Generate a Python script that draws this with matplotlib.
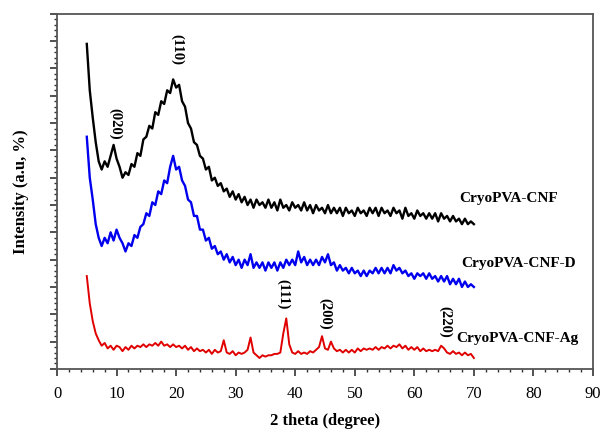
import matplotlib
matplotlib.use("Agg")
import matplotlib.pyplot as plt
import numpy as np
from matplotlib.ticker import MultipleLocator, AutoMinorLocator, NullFormatter

plt.rcParams['font.family'] = ['Liberation Serif', 'DejaVu Serif']
plt.rcParams['font.weight'] = 'bold'

# 2 theta grid (degree), 0.5 step from 5 to 70
twoTheta = np.arange(5.0, 70.01, 0.5)

cryoCNF = [11.9, 10.2, 9.2, 8.3, 7.6, 7.3, 7.6, 7.4, 7.8, 8.2,
           7.7, 7.4, 7.0, 7.2, 7.1, 7.5, 7.4, 7.9, 7.8, 8.4,
           8.5, 8.9, 8.8, 9.4, 9.3, 9.8, 9.7, 10.2, 10.1, 10.6,
           10.3, 10.4, 9.8, 9.6, 9.0, 8.8, 8.3, 8.2, 7.8, 7.7,
           7.3, 7.4, 6.9, 7.0, 6.7, 6.8, 6.5, 6.6, 6.3, 6.5,
           6.2, 6.4, 6.1, 6.3, 6.0, 6.2, 5.9, 6.2, 6.0, 6.1,
           5.9, 6.2, 5.9, 6.1, 5.8, 6.2, 5.9, 6.0, 5.8, 6.1,
           5.9, 6.0, 5.8, 6.1, 5.8, 6.0, 5.7, 6.0, 5.8, 5.9,
           5.7, 6.0, 5.7, 5.9, 5.7, 5.9, 5.6, 5.9, 5.7, 5.8,
           5.6, 5.9, 5.7, 5.8, 5.6, 5.9, 5.7, 5.9, 5.6, 5.9,
           5.7, 5.8, 5.6, 5.9, 5.7, 5.8, 5.5, 5.9, 5.6, 5.7,
           5.5, 5.8, 5.6, 5.7, 5.5, 5.7, 5.5, 5.7, 5.4, 5.7,
           5.5, 5.6, 5.4, 5.6, 5.4, 5.5, 5.3, 5.5, 5.3, 5.4,
           5.3]

cryoCNF_D = [8.5, 7.0, 6.2, 5.3, 4.8, 4.5, 4.8, 4.6, 5.0, 4.7,
             5.1, 4.8, 4.6, 4.3, 4.6, 4.5, 4.9, 4.8, 5.2, 5.3,
             5.7, 5.6, 6.1, 6.0, 6.5, 6.4, 6.9, 6.8, 7.4, 7.8,
             7.3, 7.4, 6.9, 6.7, 6.2, 6.1, 5.6, 5.6, 5.1, 5.1,
             4.7, 4.8, 4.4, 4.5, 4.2, 4.3, 4.0, 4.2, 3.9, 4.1,
             3.8, 4.0, 3.7, 4.0, 3.8, 4.2, 3.7, 3.9, 3.7, 3.9,
             3.6, 3.9, 3.7, 3.9, 3.6, 3.9, 3.7, 4.0, 3.8, 4.0,
             3.8, 4.3, 3.9, 4.1, 3.8, 4.0, 3.8, 4.0, 3.8, 4.1,
             3.9, 4.2, 3.8, 3.9, 3.6, 3.8, 3.6, 3.7, 3.5, 3.7,
             3.5, 3.6, 3.4, 3.6, 3.4, 3.6, 3.5, 3.7, 3.5, 3.7,
             3.5, 3.7, 3.5, 3.8, 3.6, 3.7, 3.5, 3.6, 3.4, 3.5,
             3.3, 3.5, 3.4, 3.5, 3.3, 3.5, 3.3, 3.4, 3.2, 3.4,
             3.2, 3.4, 3.1, 3.3, 3.1, 3.3, 3.0, 3.2, 3.0, 3.1,
             3.0]

cryoCNF_Ag = [3.4, 2.4, 1.75, 1.3, 1.05, 0.85, 0.95, 0.75, 0.85, 0.7,
              0.85, 0.8, 0.65, 0.8, 0.7, 0.85, 0.75, 0.85, 0.8, 0.9,
              0.8, 0.9, 0.85, 0.95, 0.85, 1.0, 0.85, 0.9, 0.8, 0.9,
              0.8, 0.85, 0.75, 0.85, 0.7, 0.8, 0.65, 0.75, 0.65, 0.7,
              0.6, 0.7, 0.55, 0.7, 0.6, 0.65, 1.05, 0.6, 0.55, 0.65,
              0.5, 0.6, 0.55, 0.6, 0.7, 1.15, 0.6, 0.5, 0.4, 0.5,
              0.45, 0.5, 0.5, 0.55, 0.55, 0.6, 1.3, 1.85, 0.9, 0.6,
              0.55, 0.65, 0.55, 0.6, 0.55, 0.65, 0.6, 0.7, 0.8, 1.2,
              0.75, 0.7, 1.0, 0.75, 0.65, 0.7, 0.6, 0.7, 0.6, 0.7,
              0.6, 0.75, 0.65, 0.75, 0.7, 0.75, 0.7, 0.8, 0.7, 0.8,
              0.75, 0.85, 0.75, 0.85, 0.8, 0.9, 0.75, 0.85, 0.7, 0.8,
              0.7, 0.8, 0.65, 0.75, 0.65, 0.7, 0.65, 0.7, 0.65, 0.85,
              0.75, 0.6, 0.55, 0.65, 0.55, 0.6, 0.5, 0.6, 0.5, 0.55,
              0.4]

# peak labels: text, 2theta, height
peakLabels = ["(020)", "(110)", "(111)", "(200)", "(220)"]
peakX = [9.7, 20.1, 38.0, 45.0, 65.1]
peakY = [8.97, 11.7, 2.75, 2.0, 1.72]

sampleNames = ["CryoPVA-CNF", "CryoPVA-CNF-D", "CryoPVA-CNF-Ag"]
sampleX = [67.6, 67.9, 67.1]
sampleY = [6.23, 3.85, 1.13]

fig = plt.figure(figsize=(6.02, 4.32), dpi=100)
ax = fig.add_axes([0.0947, 0.146, 0.8903, 0.822])

ax.plot(twoTheta, cryoCNF, color='black', lw=1.7)
ax.plot(twoTheta, cryoCNF_D, color='#0000ee', lw=1.7)
ax.plot(twoTheta, cryoCNF_Ag, color='#e00000', lw=1.4)

for lab, px, py in zip(peakLabels, peakX, peakY):
    ax.text(px, py, lab, rotation=270, ha='center', va='center',
            fontsize=10.5, fontweight='bold')

for name, sx, sy in zip(sampleNames, sampleX, sampleY):
    ax.text(sx, sy, name, ha='left', va='center', fontsize=11, fontweight='bold')

ax.set_xlim(0, 90)
ax.set_ylim(0, 13)
ax.xaxis.set_major_locator(MultipleLocator(10))
ax.xaxis.set_minor_locator(MultipleLocator(2))
ax.yaxis.set_major_locator(MultipleLocator(1))
ax.yaxis.set_minor_locator(AutoMinorLocator(5))
ax.yaxis.set_major_formatter(NullFormatter())

for s in ax.spines.values():
    s.set_color('#555555')
    s.set_linewidth(1.3)
ax.tick_params(which='major', direction='out', length=5, width=1.2, color='#333333',
               labelsize=12, pad=7)
ax.tick_params(which='minor', direction='out', length=2.5, width=1.0, color='#333333')
for lbl in ax.get_xticklabels():
    lbl.set_fontweight('normal')

ax.set_xlabel("2 theta (degree)", fontsize=12, fontweight='bold', labelpad=8)
ax.set_ylabel("Intensity (a.u, %)", fontsize=12, fontweight='bold', labelpad=8)

plt.savefig("out.png", dpi=100)
